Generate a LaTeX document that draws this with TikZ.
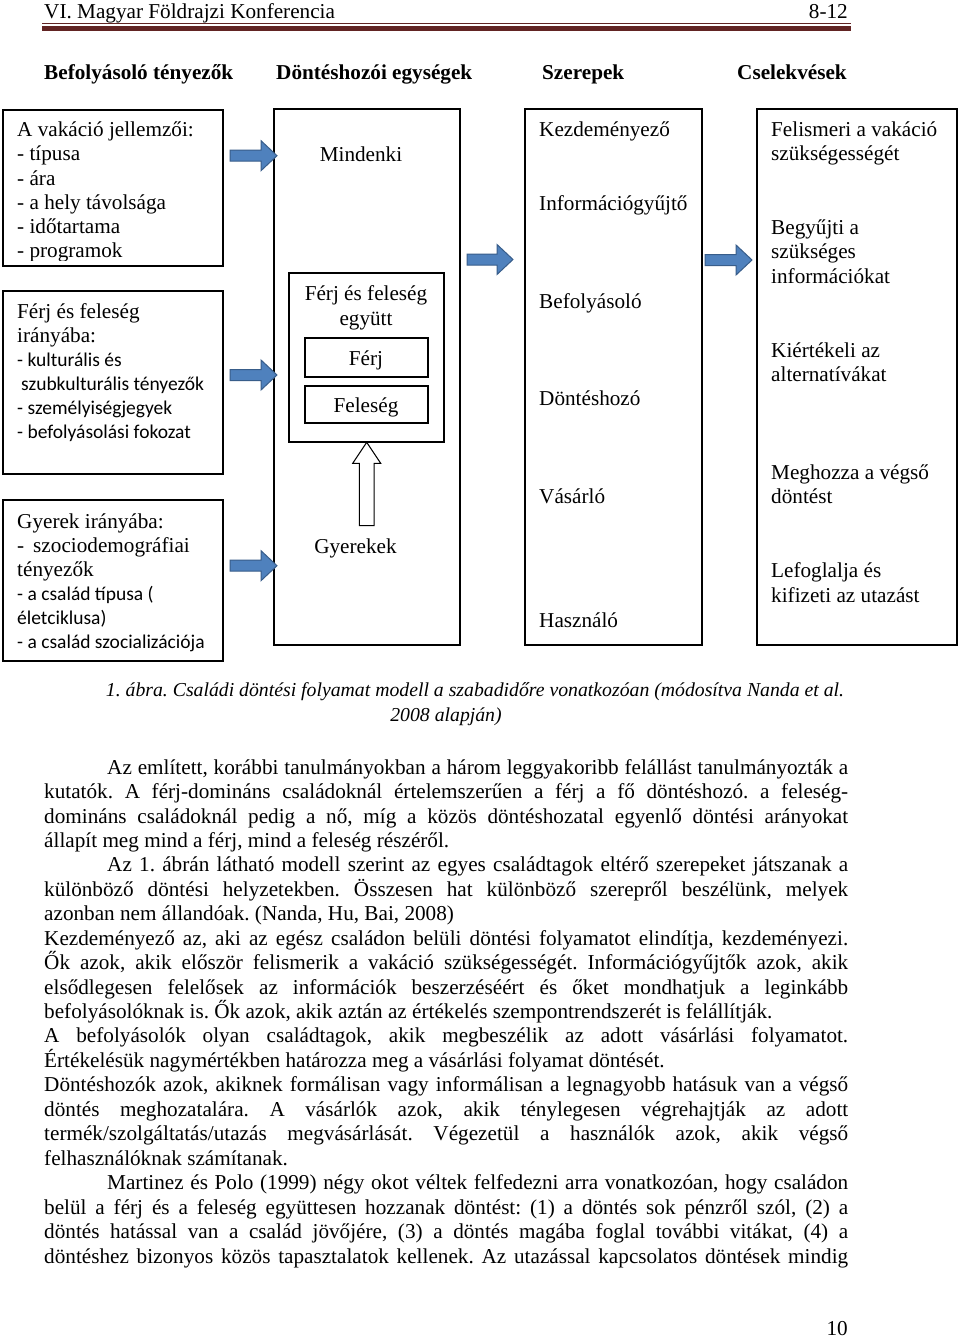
\documentclass[tikz,border=0pt]{standalone}
\usepackage{graphicx}
\usepackage{fontspec}
\setmainfont{Liberation Serif}
\newfontfamily\calibfont{Carlito}
\newcommand{\tnr}{\fontsize{21.2}{24}\selectfont\frenchspacing}
\newcommand{\capf}{\fontsize{19.75}{24}\selectfont\frenchspacing\itshape}
\newcommand{\calib}{\calibfont\fontsize{19.5}{24}\selectfont\frenchspacing}
\definecolor{maroon}{HTML}{622423}
\definecolor{arrfill}{HTML}{4F81BD}
\definecolor{arredge}{HTML}{385D8A}
\tikzset{
  boxn/.style={draw=black, line width=1.2pt, inner sep=0pt, outer sep=0pt, anchor=north west, rectangle},
  tx/.style={anchor=base west, inner sep=0pt, font=\tnr},
  tc/.style={anchor=base, inner sep=0pt, font=\tnr},
  cx/.style={anchor=base west, inner sep=0pt, font=\calib},
  hd/.style={anchor=base west, inner sep=0pt, font=\tnr\bfseries},
  captxt/.style={anchor=base, inner sep=0pt, font=\capf},
  bluearr/.style={fill=arrfill, draw=arredge, line width=1pt, line join=miter},
  whitearr/.style={fill=white, draw=black, line width=1pt, line join=miter},
}
\newcommand{\barr}[3]{%
  \draw[bluearr] (#1,#3-5.5) -- ({#2-16},#3-5.5) -- ({#2-16},#3-15) -- (#2,#3) -- ({#2-16},#3+15) -- ({#2-16},#3+5.5) -- (#1,#3+5.5) -- cycle;}
\newsavebox\lbox
\newcommand{\jw}[2]{\sbox\lbox{#2}\ifdim\wd\lbox>#1\relax\pgfmathsetmacro\lrat{#1/\wd\lbox}\scalebox{\lrat}[1]{\usebox\lbox}\else\makebox[#1][s]{#2}\fi}
\newcommand{\jl}[1]{\jw{804pt}{#1}}
\newcommand{\jli}[1]{\jw{741pt}{#1}}
\begin{document}
\begin{tikzpicture}[x=1pt,y=-1pt]
\useasboundingbox (0,0) rectangle (960,1338);
\fill[white] (0,0) rectangle (960,1338);
% header
\node[tx] (hdl) at (44,18.5) {VI. Magyar Földrajzi Konferencia};
\node[anchor=base east, inner sep=0pt, font=\tnr] (hdr) at (848,18.5) {8-12};
\draw[maroon, line width=0.8pt] (42,23.8) -- (851,23.8);
\draw[maroon, line width=5pt] (42,28.8) -- (851,28.8);
% column headers
\node[hd] (h1) at (44,80) {Befolyásoló tényezők};
\node[hd] (h2) at (276,80) {Döntéshozói egységek};
\node[hd] (h3) at (542,80) {Szerepek};
\node[hd] (h4) at (737,80) {Cselekvések};
% left boxes
\node[boxn, minimum width=220pt, minimum height=156pt] (b1) at (3,110) {};
\node[boxn, minimum width=220pt, minimum height=183pt] (b2) at (3,291) {};
\node[boxn, minimum width=220pt, minimum height=161pt] (b3) at (3,500) {};
\node[tx] (v1) at (17,136.5) {A vakáció jellemzői:};
\node[tx] (v2) at (17,160.5) {- típusa};
\node[tx] (v3) at (17,185) {- ára};
\node[tx] (v4) at (17,209.5) {- a hely távolsága};
\node[tx] (v5) at (17,233.5) {- időtartama};
\begin{scope}
\clip (4,240) rectangle (222,260);
\node[tx] (v6) at (17,257.5) {- programok};
\end{scope}
\node[tx] (f1) at (17,318) {Férj és feleség};
\node[tx] (f2) at (17,342) {irányába:};
\node[cx] (f3) at (17,366) {- kulturális és};
\node[cx] (f4) at (21,390) {szubkulturális tényezők};
\node[cx] (f5) at (17,414) {- személyiségjegyek};
\node[cx] (f6) at (17,438) {- befolyásolási fokozat};
\node[tx] (g1) at (17,528) {Gyerek irányába:};
\node[tx] (g2) at (17,552) {-\hspace{9pt}szociodemográfiai};
\node[tx] (g3) at (17,576) {tényezők};
\node[cx] (g4) at (17,600) {- a család típusa (};
\node[cx] (g5) at (17,624) {életciklusa)};
\node[cx] (g6) at (17,648) {- a család szocializációja};
% column 2
\node[boxn, minimum width=186pt, minimum height=536pt] (c2) at (274,109) {};
\node[boxn, minimum width=155pt, minimum height=169pt] (inner) at (289,273) {};
\node[boxn, minimum width=123pt, minimum height=39pt] (ferj) at (305,338) {};
\node[boxn, minimum width=123pt, minimum height=37pt] (feleseg) at (305,386) {};
\node[tc] (mind) at (361,161) {Mindenki};
\node[tc] (fe1) at (366,300) {Férj és feleség};
\node[tc] (fe2) at (366,325) {együtt};
\node[tc] (fj) at (366,365) {Férj};
\node[tc] (fl) at (366,412) {Feleség};
\node[tc] (gy) at (355.5,553) {Gyerekek};
\draw[whitearr] (359.3,525.7) -- (359.3,463.3) -- (352.7,463.3) -- (366.7,442.3) -- (380.7,463.3) -- (374,463.3) -- (374,525.7) -- cycle;
% column 3
\node[boxn, minimum width=177pt, minimum height=536pt] (c3) at (525,109) {};
\node[tx] (r1) at (539,136) {Kezdeményező};
\node[tx] (r2) at (539,210) {Információgyűjtő};
\node[tx] (r3) at (539,308) {Befolyásoló};
\node[tx] (r4) at (539,405) {Döntéshozó};
\node[tx] (r5) at (539,503) {Vásárló};
\node[tx] (r6) at (539,627) {Használó};
% column 4
\node[boxn, minimum width=200pt, minimum height=536pt] (c4) at (757,109) {};
\node[tx] (a1) at (771,136) {Felismeri a vakáció};
\node[tx] (a2) at (771,160) {szükségességét};
\node[tx] (a3) at (771,234) {Begyűjti a};
\node[tx] (a4) at (771,258) {szükséges};
\node[tx] (a5) at (771,283) {információkat};
\node[tx] (a6) at (771,357) {Kiértékeli az};
\node[tx] (a7) at (771,381) {alternatívákat};
\node[tx] (a8) at (771,479) {Meghozza a végső};
\node[tx] (a9) at (771,503) {döntést};
\node[tx] (a10) at (771,577) {Lefoglalja és};
\node[tx] (a11) at (771,602) {kifizeti az utazást};
% blue arrows
\barr{230}{277}{155.7}
\barr{230}{277}{375}
\barr{230}{277}{565.7}
\barr{467}{513}{259.5}
\barr{705}{752}{260}
% caption
\node[captxt] (cap1) at (475,696) {1. ábra. Családi döntési folyamat modell a szabadidőre vonatkozóan (módosítva Nanda et al.};
\node[captxt] (cap2) at (446,721) {2008 alapján)};
% body text
\node[tx] (l1) at (107,774) {\jli{Az említett, korábbi tanulmányokban a három leggyakoribb felállást tanulmányozták a}};
\node[tx] (l2) at (44,798.5) {\jl{kutatók. A férj-domináns családoknál értelemszerűen a férj a fő döntéshozó. a feleség-}};
\node[tx] (l3) at (44,823) {\jl{domináns családoknál pedig a nő, míg a közös döntéshozatal egyenlő döntési arányokat}};
\node[tx] (l4) at (44,847.3) {állapít meg mind a férj, mind a feleség részéről.};
\node[tx] (l5) at (107,871.8) {\jli{Az 1. ábrán látható modell szerint az egyes családtagok eltérő szerepeket játszanak a}};
\node[tx] (l6) at (44,896.2) {\jl{különböző döntési helyzetekben. Összesen hat különböző szerepről beszélünk, melyek}};
\node[tx] (l7) at (44,920.7) {azonban nem állandóak. (Nanda, Hu, Bai, 2008)};
\node[tx] (l8) at (44,945.1) {\jl{Kezdeményező az, aki az egész családon belüli döntési folyamatot elindítja, kezdeményezi.}};
\node[tx] (l9) at (44,969.6) {\jl{Ők azok, akik először felismerik a vakáció szükségességét. Információgyűjtők azok, akik}};
\node[tx] (l10) at (44,994) {\jl{elsődlegesen felelősek az információk beszerzéséért és őket mondhatjuk a leginkább}};
\node[tx] (l11) at (44,1018.5) {befolyásolóknak is. Ők azok, akik aztán az értékelés szempontrendszerét is felállítják.};
\node[tx] (l12) at (44,1042.9) {\jl{A befolyásolók olyan családtagok, akik megbeszélik az adott vásárlási folyamatot.}};
\node[tx] (l13) at (44,1067.4) {Értékelésük nagymértékben határozza meg a vásárlási folyamat döntését.};
\node[tx] (l14) at (44,1091.8) {\jl{Döntéshozók azok, akiknek formálisan vagy informálisan a legnagyobb hatásuk van a végső}};
\node[tx] (l15) at (44,1116.3) {\jl{döntés meghozatalára. A vásárlók azok, akik ténylegesen végrehajtják az adott}};
\node[tx] (l16) at (44,1140.7) {\jl{termék/szolgáltatás/utazás megvásárlását. Végezetül a használók azok, akik végső}};
\node[tx] (l17) at (44,1165.2) {felhasználóknak számítanak.};
\node[tx] (l18) at (107,1189.6) {\jli{Martinez és Polo (1999) négy okot véltek felfedezni arra vonatkozóan, hogy családon}};
\node[tx] (l19) at (44,1214.1) {\jl{belül a férj és a feleség együttesen hozzanak döntést: (1) a döntés sok pénzről szól, (2) a}};
\node[tx] (l20) at (44,1238.5) {\jl{döntés hatással van a család jövőjére, (3) a döntés magába foglal további vitákat, (4) a}};
\node[tx] (l21) at (44,1263) {\jl{döntéshez bizonyos közös tapasztalatok kellenek. Az utazással kapcsolatos döntések mindig}};
% page number
\node[anchor=base east, inner sep=0pt, font=\tnr] (pg) at (848,1335) {10};
\end{tikzpicture}
\end{document}
